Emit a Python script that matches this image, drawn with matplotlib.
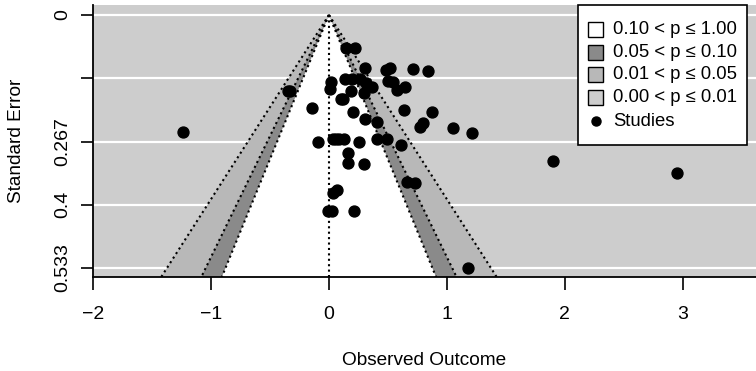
import matplotlib.pyplot as plt
import numpy as np
from matplotlib.patches import Rectangle

plt.rcParams['font.family'] = ['Liberation Sans', 'DejaVu Sans']

# Study estimates (observed outcome) and standard errors
yi = np.array([0.141, 0.220, 0.305, 0.483, 0.517, 0.715, 0.842, 0.017, 0.008,
               0.136, 0.192, 0.263, 0.314, 0.367, 0.503, 0.545, 0.573, 0.644,
               -0.331, -0.345, 0.184, 0.297, 0.102, 0.121, -0.147, 0.206, 0.636,
               0.870, 0.305, 0.404, 0.799, 0.771, 1.054, 1.209, -0.090, 0.037,
               0.060, 0.088, 0.127, 0.254, 0.404, 0.489, 0.607, 0.164, 0.164,
               0.297, 0.658, 0.729, 0.037, 0.065, 0.023, -0.006, 0.212,
               -1.235, 1.898, 2.949, 1.178])
sei = np.array([0.070, 0.070, 0.111, 0.116, 0.111, 0.114, 0.119, 0.141, 0.156,
                0.135, 0.135, 0.135, 0.144, 0.151, 0.140, 0.142, 0.159, 0.152,
                0.161, 0.161, 0.161, 0.165, 0.178, 0.178, 0.196, 0.204, 0.200,
                0.204, 0.220, 0.225, 0.227, 0.235, 0.239, 0.248, 0.267, 0.261,
                0.261, 0.261, 0.261, 0.267, 0.261, 0.261, 0.274, 0.291, 0.312,
                0.314, 0.352, 0.354, 0.375, 0.368, 0.414, 0.414, 0.414,
                0.246, 0.307, 0.333, 0.533])

# contour levels: z values for p = .10, .05, .01
zvals = [1.645, 1.960, 2.576]
shades = ['white', '#8a8a8a', '#b8b8b8']
back = '#cdcdcd'
legend_labels = ['0.10 < p \u2264 1.00', '0.05 < p \u2264 0.10',
                 '0.01 < p \u2264 0.05', '0.00 < p \u2264 0.01', 'Studies']
legend_fills = ['white', shades[1], shades[2], back, None]

yticks = [0, 0.133, 0.267, 0.4, 0.533]
yticklabels = ['0', '', '0.267', '0.4', '0.533']
xticks = [-2, -1, 0, 1, 2, 3]
xticklabels = ['\u22122', '\u22121', '0', '1', '2', '3']

W, H = 756, 371
fig = plt.figure(figsize=(W / 100, H / 100), dpi=100)
ax = fig.add_axes([93 / W, 1 - 277 / H, (W - 93) / W, 272 / H])
ax.set_facecolor(back)

ax.set_xlim(-2.0, 3.62)
ax.set_ylim(0.552, -0.021)

# white horizontal grid lines
for t in yticks:
    ax.axhline(t, color='white', lw=1.6, zorder=1)

# funnel contours, widest first
semax = 0.7
dots = (0, (1.0, 1.6))
for z, col in zip(zvals[::-1], shades[::-1]):
    ax.fill([0, -z * semax, z * semax], [0, semax, semax], color=col, zorder=2, lw=0)
for z in zvals:
    ax.plot([0, -z * semax], [0, semax], color='black', ls=dots, lw=1.5, zorder=3)
    ax.plot([0, z * semax], [0, semax], color='black', ls=dots, lw=1.5, zorder=3)
ax.plot([0, 0], [0, semax], color='black', ls=dots, lw=1.5, zorder=3)

ax.scatter(yi, sei, s=62, color='black', zorder=4, clip_on=False)

ax.spines['top'].set_visible(False)
ax.spines['right'].set_visible(False)
ax.spines['left'].set_linewidth(1.3)
ax.spines['bottom'].set_linewidth(1.3)

ax.set_xticks(xticks)
ax.set_xticklabels(xticklabels)
ax.set_yticks(yticks)
ax.set_yticklabels(yticklabels, rotation=90, va='center')
ax.tick_params(axis='both', labelsize=14, length=9, width=1.2, direction='out')
ax.tick_params(axis='x', pad=12)
ax.tick_params(axis='y', pad=7)

ax.set_xlabel('Observed Outcome', fontsize=13.7, labelpad=21)
ax.set_ylabel('Standard Error', fontsize=13.7, labelpad=21)

# legend box drawn by hand (R-style spacing), positions in figure pixels
def fx(px):
    return px / W

def fy(py):
    return 1 - py / H

fig.patches.append(Rectangle((fx(578), fy(145)), fx(747) - fx(578), fy(5) - fy(145),
                             transform=fig.transFigure, facecolor='white',
                             edgecolor='black', lw=1.2, zorder=5))
rows = [29.5, 52.2, 74.9, 97.6, 121.0]
for r, lab, fc in zip(rows, legend_labels, legend_fills):
    if fc is None:
        fig.add_artist(plt.Line2D([fx(595.5)], [fy(r)], marker='o', color='black',
                                  markersize=6.5, transform=fig.transFigure, zorder=6))
    else:
        fig.patches.append(Rectangle((fx(588), fy(r + 7.5)), fx(15), 15 / H,
                                     transform=fig.transFigure, facecolor=fc,
                                     edgecolor='black', lw=1, zorder=6))
    fig.text(fx(613), fy(r), lab, fontsize=13.3, va='center', ha='left', zorder=7)

fig.savefig('out.png', dpi=100)
